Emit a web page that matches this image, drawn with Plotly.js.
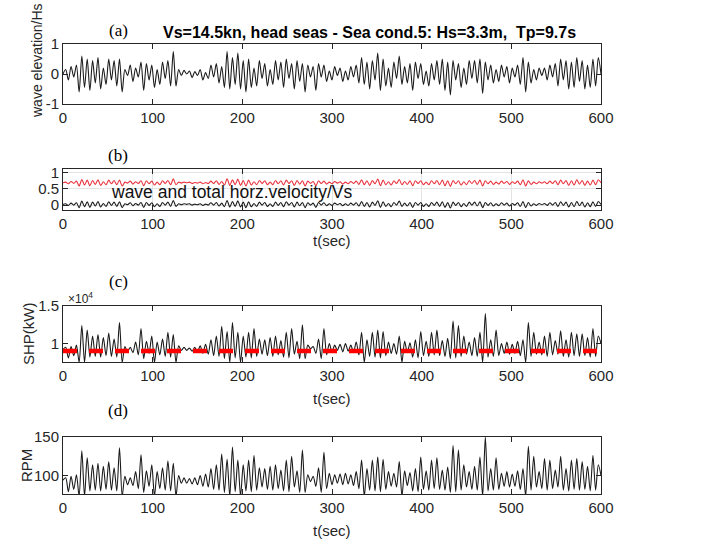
<!DOCTYPE html>
<html><head><meta charset="utf-8">
<script src="https://cdn.plot.ly/plotly-3.0.1.min.js"></script>
<style>html,body{margin:0;padding:0;background:#fff}#chart{width:702px;height:542px}</style>
</head><body><div id="chart"></div>
<script>
// sampling interval of the read-off series (s)
const dt = 3;
const timeTicks = [0, 100, 200, 300, 400, 500, 600];

// (a) wave elevation / Hs
const waveElevation = [
 0, 0.15, -0.2, 0.25, -0.1, 0.3, -0.6, 0.6, -0.45, 0.5,
 -0.55, 0.45, -0.3, 0.55, -0.5, 0.2, -0.35, 0.5, -0.2, 0.45,
 -0.4, 0.5, -0.6, 0.15, -0.05, 0.3, -0.25, 0.2, -0.1, 0.4,
 -0.55, 0.35, -0.2, 0.3, -0.45, 0.15, -0.35, 0.4, -0.15, 0.45,
 -0.4, 0.75, -0.4, 0.15, -0.05, 0.12, 0.0, 0.1, -0.12, 0.08,
 -0.05, 0.15, -0.2, 0.05, -0.15, 0.3, -0.1, 0.35, -0.3, 0.25,
 -0.45, 0.75, -0.5, 0.55, -0.35, 0.7, -0.5, 0.45, -0.6, 0.5,
 -0.45, 0.2, -0.4, 0.45, -0.15, 0.35, -0.4, 0.15, -0.35, 0.45,
 -0.2, 0.4, -0.45, 0.5, -0.15, 0.35, -0.5, 0.45, -0.25, 0.35,
 -0.6, 0.3, -0.1, 0.25, -0.55, 0.35, -0.1, 0.3, -0.25, 0.1,
 -0.2, 0.25, -0.05, 0.2, -0.25, 0.1, -0.2, 0.25, -0.1, 0.3,
 -0.3, 0.55, -0.35, 0.4, -0.5, 0.45, -0.2, 0.7, -0.55, 0.5,
 -0.4, 0.2, -0.45, 0.4, -0.15, 0.6, -0.35, 0.25, -0.3, 0.35,
 -0.55, 0.4, -0.15, 0.35, -0.35, 0.1, -0.4, 0.35, -0.2, 0.45,
 -0.35, 0.5, -0.55, 0.4, -0.7, 0.45, -0.2, 0.35, -0.45, 0.2,
 -0.35, 0.45, -0.15, 0.45, -0.3, 0.5, -0.65, 0.4, -0.2, 0.3,
 -0.3, 0.15, -0.25, 0.3, -0.1, 0.25, -0.3, 0.2, -0.1, 0.3,
 -0.35, 0.55, -0.6, 0.4, -0.3, 0.15, -0.2, 0.2, -0.05, 0.2,
 -0.2, 0.3, -0.1, 0.35, -0.4, 0.5, -0.2, 0.45, -0.5, 0.4,
 -0.45, 0.55, -0.25, 0.45, -0.5, 0.3, -0.45, 0.5, -0.4, 0.55, 0
];

// (b) wave horizontal velocity / Vs (black)
const waveVelocity = [
 0.02, 0.04, -0.01, 0.06, 0.00, 0.07, -0.08, 0.12, -0.05, 0.10,
 -0.07, 0.09, -0.03, 0.11, -0.06, 0.05, -0.04, 0.10, -0.01, 0.09,
 -0.04, 0.10, -0.08, 0.04, 0.01, 0.07, -0.02, 0.05, 0.00, 0.08,
 -0.07, 0.08, -0.01, 0.07, -0.05, 0.04, -0.04, 0.08, 0.00, 0.09,
 -0.04, 0.14, -0.04, 0.04, 0.01, 0.04, 0.02, 0.04, 0.00, 0.03,
 0.01, 0.04, -0.01, 0.03, 0.00, 0.07, 0.00, 0.08, -0.03, 0.06,
 -0.05, 0.14, -0.06, 0.11, -0.04, 0.13, -0.06, 0.09, -0.08, 0.10,
 -0.05, 0.05, -0.04, 0.09, 0.00, 0.08, -0.04, 0.04, -0.04, 0.09,
 -0.01, 0.08, -0.05, 0.10, 0.00, 0.08, -0.06, 0.09, -0.02, 0.08,
 -0.08, 0.07, 0.00, 0.06, -0.07, 0.08, 0.00, 0.07, -0.02, 0.04,
 -0.01, 0.06, 0.01, 0.05, -0.02, 0.04, -0.01, 0.06, 0.00, 0.07,
 -0.03, 0.11, -0.04, 0.08, -0.06, 0.09, -0.01, 0.13, -0.07, 0.10,
 -0.04, 0.05, -0.05, 0.08, 0.00, 0.12, -0.04, 0.06, -0.03, 0.08,
 -0.07, 0.08, 0.00, 0.08, -0.04, 0.04, -0.04, 0.08, -0.01, 0.09,
 -0.04, 0.10, -0.07, 0.08, -0.09, 0.09, -0.01, 0.08, -0.05, 0.05,
 -0.04, 0.09, 0.00, 0.09, -0.03, 0.10, -0.08, 0.08, -0.01, 0.07,
 -0.03, 0.04, -0.02, 0.07, 0.00, 0.06, -0.03, 0.05, 0.00, 0.07,
 -0.04, 0.11, -0.08, 0.08, -0.03, 0.04, -0.01, 0.05, 0.01, 0.05,
 -0.01, 0.07, 0.00, 0.08, -0.04, 0.10, -0.01, 0.09, -0.06, 0.08,
 -0.05, 0.11, -0.02, 0.09, -0.06, 0.07, -0.05, 0.10, -0.04, 0.11, 0.02
];

// (b) total horizontal velocity / Vs (red)
const totalVelocity = [
 0.68, 0.70, 0.65, 0.72, 0.66, 0.73, 0.58, 0.78, 0.61, 0.76,
 0.59, 0.75, 0.63, 0.77, 0.60, 0.71, 0.62, 0.76, 0.65, 0.75,
 0.62, 0.76, 0.58, 0.70, 0.67, 0.73, 0.64, 0.71, 0.66, 0.74,
 0.59, 0.74, 0.65, 0.73, 0.61, 0.70, 0.62, 0.74, 0.66, 0.75,
 0.62, 0.80, 0.62, 0.70, 0.67, 0.70, 0.68, 0.70, 0.66, 0.69,
 0.67, 0.70, 0.65, 0.69, 0.66, 0.73, 0.66, 0.74, 0.63, 0.72,
 0.61, 0.80, 0.60, 0.77, 0.62, 0.79, 0.60, 0.75, 0.58, 0.76,
 0.61, 0.71, 0.62, 0.75, 0.66, 0.74, 0.62, 0.70, 0.62, 0.75,
 0.65, 0.74, 0.61, 0.76, 0.66, 0.74, 0.60, 0.75, 0.64, 0.74,
 0.58, 0.73, 0.66, 0.72, 0.59, 0.74, 0.66, 0.73, 0.64, 0.70,
 0.65, 0.72, 0.67, 0.71, 0.64, 0.70, 0.65, 0.72, 0.66, 0.73,
 0.63, 0.77, 0.62, 0.74, 0.60, 0.75, 0.65, 0.79, 0.59, 0.76,
 0.62, 0.71, 0.61, 0.74, 0.66, 0.78, 0.62, 0.72, 0.63, 0.74,
 0.59, 0.74, 0.66, 0.74, 0.62, 0.70, 0.62, 0.74, 0.65, 0.75,
 0.62, 0.76, 0.59, 0.74, 0.57, 0.75, 0.65, 0.74, 0.61, 0.71,
 0.62, 0.75, 0.66, 0.75, 0.63, 0.76, 0.58, 0.74, 0.65, 0.73,
 0.63, 0.70, 0.64, 0.73, 0.66, 0.72, 0.63, 0.71, 0.66, 0.73,
 0.62, 0.77, 0.58, 0.74, 0.63, 0.70, 0.65, 0.71, 0.67, 0.71,
 0.65, 0.73, 0.66, 0.74, 0.62, 0.76, 0.65, 0.75, 0.60, 0.74,
 0.61, 0.77, 0.64, 0.75, 0.60, 0.73, 0.61, 0.76, 0.62, 0.77, 0.68
];

// (c) shaft horse power, kW
const shp = [
 9200, 9500, 8100, 9600, 8400, 9800, 7500, 12400, 7500, 11800,
 8200, 11000, 8300, 11200, 8200, 10800, 8400, 11400, 8300, 10600,
 8200, 12800, 7500, 9600, 8900, 9500, 8800, 10200, 8500, 12000,
 8000, 10300, 8700, 11000, 7500, 10200, 8500, 10600, 8300, 11500,
 8200, 11200, 7500, 9700, 9100, 9500, 9100, 9400, 9000, 9500,
 8900, 9700, 8700, 9900, 8600, 10500, 8400, 11000, 8300, 12300,
 8000, 11600, 7500, 12800, 8100, 11500, 7500, 11000, 8200, 11500,
 8100, 12000, 8300, 10600, 8600, 10500, 8400, 10800, 8300, 11000,
 8500, 10400, 8200, 11500, 8100, 12000, 8600, 10300, 8000, 12500,
 8000, 9800, 9300, 9600, 8700, 10600, 8000, 12000, 8500, 10000,
 8900, 9800, 9100, 9900, 8900, 10000, 9000, 9800, 8800, 10200,
 8500, 11500, 7500, 10500, 8300, 11500, 8200, 11800, 8100, 11600,
 8400, 10200, 8700, 10000, 8600, 11000, 7500, 10300, 8800, 10100,
 8200, 10500, 8100, 11600, 8400, 10300, 8300, 11500, 8500, 11800,
 8400, 10400, 8300, 10700, 8000, 13000, 8100, 12400, 8300, 11000,
 8600, 10200, 8400, 10800, 8300, 11500, 7500, 14000, 8200, 10500,
 8300, 11800, 8400, 10000, 8700, 10200, 8600, 9900, 8700, 10300,
 8400, 10500, 7500, 12800, 8300, 11500, 8600, 10200, 8500, 11000,
 8300, 11500, 8500, 10400, 8600, 11700, 8300, 10500, 8200, 11500,
 8400, 11300, 8300, 11300, 8400, 10800, 8200, 12000, 8300, 11000, 10000
];
const shpMean = 9000;

// (d) propeller RPM
const rpm = [
 94, 97, 79, 99, 82, 101, 73, 132, 73, 123,
 80, 114, 81, 116, 80, 112, 82, 118, 81, 110,
 80, 136, 73, 99, 88, 97, 87, 105, 83, 127,
 78, 106, 86, 114, 73, 105, 83, 110, 81, 119,
 80, 116, 73, 100, 90, 97, 90, 96, 89, 97,
 88, 100, 86, 102, 85, 109, 82, 114, 81, 128,
 78, 121, 73, 137, 79, 120, 73, 114, 80, 120,
 79, 126, 81, 110, 85, 109, 82, 112, 81, 114,
 83, 107, 80, 120, 79, 125, 85, 106, 78, 133,
 78, 101, 92, 99, 86, 110, 78, 130, 83, 103,
 88, 101, 90, 102, 88, 103, 89, 101, 87, 105,
 83, 120, 73, 109, 81, 120, 80, 124, 79, 121,
 82, 105, 86, 103, 85, 118, 73, 106, 87, 104,
 80, 109, 79, 124, 82, 106, 81, 120, 83, 123,
 82, 107, 81, 111, 78, 139, 79, 133, 81, 114,
 85, 105, 82, 112, 81, 124, 73, 150, 80, 109,
 81, 123, 82, 103, 86, 105, 85, 102, 86, 106,
 82, 109, 73, 138, 81, 125, 85, 105, 83, 122,
 81, 120, 83, 107, 85, 125, 81, 109, 80, 120,
 82, 122, 81, 118, 82, 112, 80, 126, 81, 114, 100
];

const time = waveElevation.map((_, i) => i * dt);

const W = 702, H = 542;
const px = v => v / W;
const py = v => 1 - v / H;
const xDom = [px(63), px(601)];
const tickFont = {family: 'Liberation Sans, Arial, sans-serif', size: 15, color: '#262626'};

function axis(extra) {
  return Object.assign({
    showline: true, mirror: 'ticks', linecolor: '#262626', linewidth: 1,
    ticks: 'inside', ticklen: 5, tickcolor: '#262626', zeroline: false,
    showgrid: false, tickfont: tickFont, fixedrange: true
  }, extra);
}
function xaxis(anchor, extra) {
  return axis(Object.assign({domain: xDom, anchor: anchor, range: [0, 600],
    tickvals: timeTicks, ticktext: timeTicks.map(String)}, extra || {}));
}

const blk = {color: '#1a1a1a', width: 1.1, shape: 'spline', smoothing: 0.8};

const traces = [
  {x: time, y: waveElevation, xaxis: 'x', yaxis: 'y', mode: 'lines', line: blk},
  {x: time, y: totalVelocity, xaxis: 'x2', yaxis: 'y2', mode: 'lines',
   line: {color: '#e8323c', width: 1.1, shape: 'spline', smoothing: 0.8}},
  {x: time, y: waveVelocity, xaxis: 'x2', yaxis: 'y2', mode: 'lines', line: blk},
  {x: time, y: shp, xaxis: 'x3', yaxis: 'y3', mode: 'lines', line: blk},
  {x: [0, 600], y: [shpMean, shpMean], xaxis: 'x3', yaxis: 'y3', mode: 'lines',
   line: {color: '#ff0000', width: 4.5, dash: '14px,12px'}},
  {x: time, y: rpm, xaxis: 'x4', yaxis: 'y4', mode: 'lines', line: blk}
];

const serif = {family: 'Liberation Serif, Times New Roman, serif', size: 17, color: '#000'};
const sans = {family: 'Liberation Sans, Arial, sans-serif', size: 15, color: '#262626'};

function ann(text, x, y, font, extra) {
  return Object.assign({text: text, xref: 'paper', yref: 'paper', x: x, y: y,
    showarrow: false, font: font, xanchor: 'center', yanchor: 'middle'}, extra || {});
}

const layout = {
  width: W, height: H, margin: {l: 0, r: 0, t: 0, b: 0},
  paper_bgcolor: '#fff', plot_bgcolor: '#fff', showlegend: false,
  xaxis: xaxis('y'),
  yaxis: axis({domain: [py(104), py(44)], anchor: 'x', range: [-1, 1], tickvals: [-1, 0, 1], ticktext: ['-1', '0', '1']}),
  xaxis2: xaxis('y2', {showgrid: true, gridcolor: '#e3e3e3'}),
  yaxis2: axis({domain: [py(210), py(169)], anchor: 'x2', range: [-0.15, 1.1], tickvals: [0, 0.5, 1], ticktext: ['0', '0.5', '1'], showgrid: true, gridcolor: '#e3e3e3'}),
  xaxis3: xaxis('y3'),
  yaxis3: axis({domain: [py(362), py(306)], anchor: 'x3', range: [7550, 15000], tickvals: [10000, 15000], ticktext: ['1', '1.5']}),
  xaxis4: xaxis('y4'),
  yaxis4: axis({domain: [py(494), py(437)], anchor: 'x4', range: [76, 150], tickvals: [100, 150], ticktext: ['100', '150']}),
  annotations: [
    ann('(a)', px(118), py(30), serif),
    ann('<b>Vs=14.5kn, head seas - Sea cond.5: Hs=3.3m,  Tp=9.7s</b>', px(369), py(33), {family: 'Liberation Sans, Arial, sans-serif', size: 16, color: '#000'}),
    ann('wave elevation/Hs', px(37), py(61), {family: 'Liberation Sans, Arial, sans-serif', size: 14, color: '#262626'}, {textangle: -90}),
    ann('(b)', px(118), py(155), serif),
    ann('wave and total horz.velocity/Vs', px(232), py(192), {family: 'Liberation Sans, Arial, sans-serif', size: 17.5, color: '#111'}),
    ann('t(sec)', px(332), py(241), sans),
    ann('(c)', px(118), py(282), serif),
    ann('×10<sup>4</sup>', px(66), py(298), {family: 'Liberation Sans, Arial, sans-serif', size: 12, color: '#262626'}, {xanchor: 'left'}),
    ann('SHP(kW)', px(28), py(334), sans, {textangle: -90}),
    ann('t(sec)', px(332), py(398), sans),
    ann('(d)', px(118), py(410), serif),
    ann('RPM', px(26), py(466), sans, {textangle: -90}),
    ann('t(sec)', px(332), py(530), sans)
  ]
};

Plotly.newPlot('chart', traces, layout, {staticPlot: true, displayModeBar: false});
</script>
</body></html>
